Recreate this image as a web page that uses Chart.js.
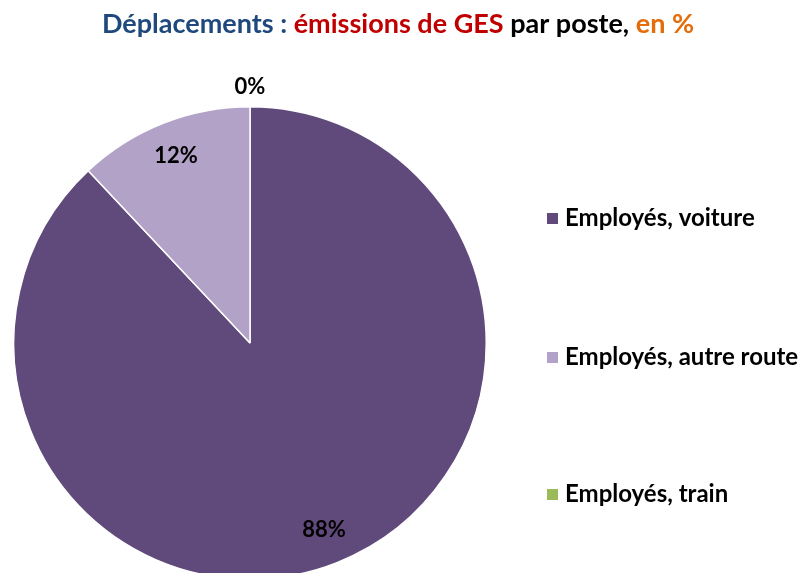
<!DOCTYPE html>
<html>
<head>
<meta charset="utf-8">
<script src="https://cdn.jsdelivr.net/npm/chart.js@4"></script>
<style>
  html, body { margin: 0; padding: 0; background: #fff; overflow: hidden; }
  #wrap { width: 802px; height: 600px; }
</style>
</head>
<body>
<div id="wrap"><canvas id="chart" width="802" height="600"></canvas></div>
<script>
// data
const labels = ['Employés, voiture', 'Employés, autre route', 'Employés, train'];
const values = [88, 12, 0];
const valueLabels = ['88%', '12%', '0%'];
const colors = ['#604A7B', '#B3A2C7', '#9BBB59'];

// title is in four colours
const titleParts = [
    {text: 'Déplacements : ', color: '#1F497D'},
    {text: 'émissions de GES ', color: '#C00000'},
    {text: 'par poste, ', color: '#000000'},
    {text: 'en %', color: '#E46C0A'}
];

const FONT = 'Lato, "Open Sans", sans-serif';

const extrasPlugin = {
    id: 'extras',
    afterDraw(chart) {
        const ctx = chart.ctx;
        ctx.save();

        // title
        ctx.font = 'bold 27px ' + FONT;
        ctx.textBaseline = 'middle';
        ctx.textAlign = 'left';
        let total = 0;
        titleParts.forEach(p => total += ctx.measureText(p.text).width);
        let x = 398 - total / 2;
        titleParts.forEach(p => {
            ctx.fillStyle = p.color;
            ctx.fillText(p.text, x, 24);
            x += ctx.measureText(p.text).width;
        });

        // value labels on slices
        const meta = chart.getDatasetMeta(0);
        ctx.font = 'bold 22px ' + FONT;
        ctx.fillStyle = '#000';
        ctx.textAlign = 'center';
        meta.data.forEach((arc, i) => {
            const mid = (arc.startAngle + arc.endAngle) / 2;
            const r = values[i] < 3 ? arc.outerRadius + 20 : arc.outerRadius * 0.85;
            ctx.fillText(valueLabels[i], arc.x + Math.cos(mid) * r, arc.y + Math.sin(mid) * r);
        });

        // legend on the right, spread out
        const legendY = [218, 357, 494];
        ctx.font = 'bold 24px ' + FONT;
        ctx.textAlign = 'left';
        labels.forEach((lab, i) => {
            ctx.fillStyle = colors[i];
            ctx.fillRect(547, legendY[i] - 5, 11, 11);
            ctx.fillStyle = '#000';
            ctx.fillText(lab, 565, legendY[i]);
        });

        ctx.restore();
    }
};

new Chart(document.getElementById('chart'), {
    type: 'pie',
    data: {
        labels: labels,
        datasets: [{
            data: values,
            backgroundColor: colors,
            borderColor: '#ffffff',
            borderWidth: 1.5
        }]
    },
    options: {
        responsive: false,
        animation: false,
        layout: {
            padding: {left: 13, right: 315, top: 106, bottom: 20}
        },
        plugins: {
            legend: {display: false},
            title: {display: false},
            tooltip: {enabled: false}
        }
    },
    plugins: [extrasPlugin]
});
</script>
</body>
</html>
